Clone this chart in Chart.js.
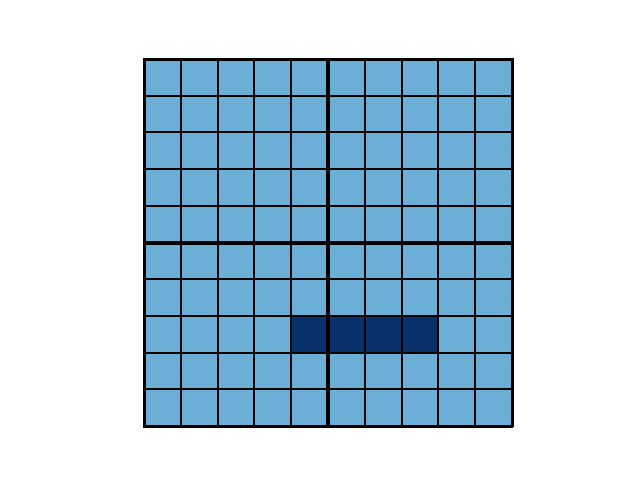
<!DOCTYPE html>
<html>
<head>
<meta charset="utf-8">
<script src="https://cdn.jsdelivr.net/npm/chart.js@4"></script>
<style>html,body{margin:0;padding:0;background:#fff}#wrap{width:640px;height:480px}</style>
</head>
<body>
<div id="wrap"><canvas id="c" width="640" height="480"></canvas></div>
<script>
// columns (left to right) and rows (top to bottom)
const columns = ['0','1','2','3','4','5','6','7','8','9'];
const rows = ['0','1','2','3','4','5','6','7','8','9'];
// cell values, one array per row from top to bottom (1 = highlighted)
const row0 = [0,0,0,0,0,0,0,0,0,0];
const row1 = [0,0,0,0,0,0,0,0,0,0];
const row2 = [0,0,0,0,0,0,0,0,0,0];
const row3 = [0,0,0,0,0,0,0,0,0,0];
const row4 = [0,0,0,0,0,0,0,0,0,0];
const row5 = [0,0,0,0,0,0,0,0,0,0];
const row6 = [0,0,0,0,0,0,0,0,0,0];
const row7 = [0,0,0,0,1,1,1,1,0,0];
const row8 = [0,0,0,0,0,0,0,0,0,0];
const row9 = [0,0,0,0,0,0,0,0,0,0];
const grid = [row0,row1,row2,row3,row4,row5,row6,row7,row8,row9];
const blockSize = 5;

const lightColor = '#6baed6';
const darkColor = '#08306b';

// stacked datasets from bottom row to top row
const datasets = grid.slice().reverse().map((vals, i) => ({
  label: 'row ' + (9 - i),
  data: vals.map(() => 1),
  backgroundColor: vals.map(v => v ? darkColor : lightColor),
  borderWidth: 0,
  barPercentage: 1,
  categoryPercentage: 1
}));

const gridPlugin = {
  id: 'cellgrid',
  afterDatasetsDraw(chart) {
    const {ctx, chartArea: a, scales: {x, y}} = chart;
    ctx.save();
    ctx.strokeStyle = '#000';
    const n = columns.length;
    const m = rows.length;
    const colEdge = i => i === 0 ? a.left : i === n ? a.right :
      (x.getPixelForValue(i - 1) + x.getPixelForValue(i)) / 2;
    const widthFor = (i, count) => (i === 0 || i === count) ? 3 : (i % blockSize === 0 ? 4 : 2);
    const snap = (p, w) => (w % 2 === 1) ? Math.floor(p) + 0.5 : Math.round(p);
    for (let i = 0; i <= n; i++) {
      const w = widthFor(i, n);
      ctx.lineWidth = w;
      const px = snap(colEdge(i), w);
      ctx.beginPath(); ctx.moveTo(px, a.top - 1); ctx.lineTo(px, a.bottom + 1); ctx.stroke();
    }
    for (let j = 0; j <= m; j++) {
      const w = widthFor(j, m);
      ctx.lineWidth = w;
      const py = snap(y.getPixelForValue(j), w);
      ctx.beginPath(); ctx.moveTo(a.left - 1, py); ctx.lineTo(a.right + 1, py); ctx.stroke();
    }
    ctx.restore();
  }
};

new Chart(document.getElementById('c'), {
  type: 'bar',
  data: { labels: columns, datasets },
  options: {
    responsive: false,
    animation: false,
    layout: { padding: { left: 144, right: 128, top: 59, bottom: 54 } },
    plugins: { legend: { display: false }, tooltip: { enabled: false } },
    scales: {
      x: { display: false, stacked: true },
      y: { display: false, stacked: true, min: 0, max: rows.length }
    }
  },
  plugins: [gridPlugin]
});
</script>
</body>
</html>
